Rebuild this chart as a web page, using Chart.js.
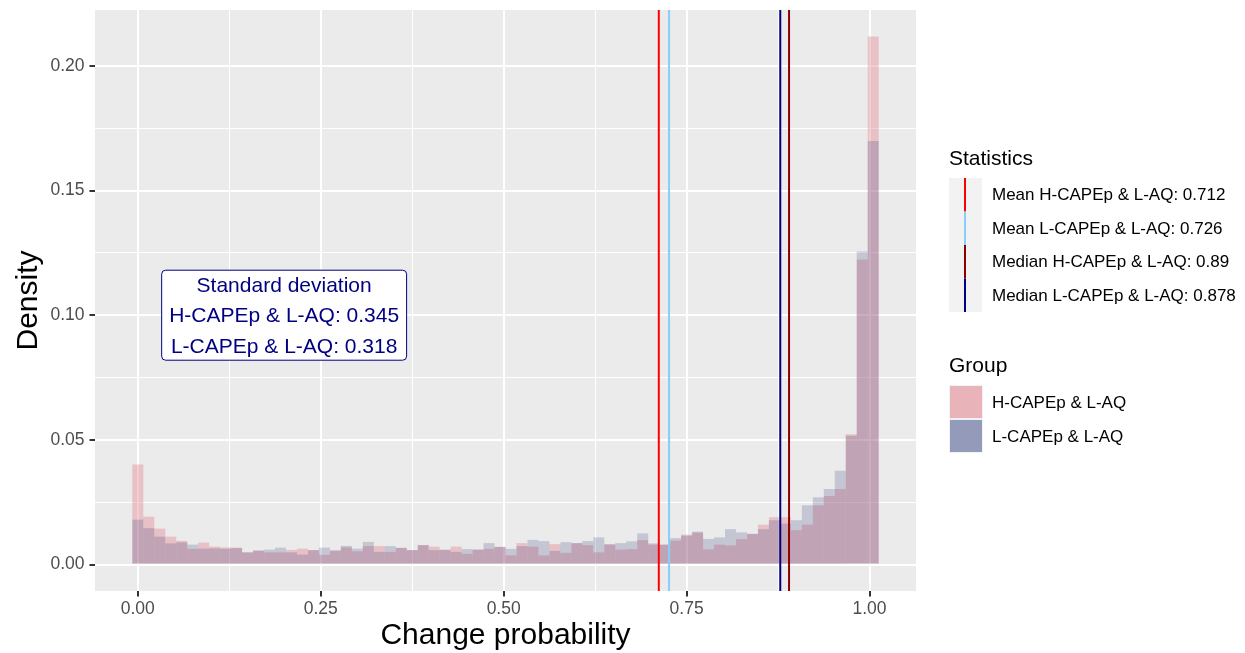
<!DOCTYPE html>
<html>
<head>
<meta charset="utf-8">
<title>Change probability histogram</title>
<script src="https://cdn.jsdelivr.net/npm/chart.js@4.4.1/dist/chart.umd.min.js"></script>
<style>
  html, body { margin: 0; padding: 0; background: #ffffff; }
  #wrap { width: 1245px; height: 653px; position: relative; }
</style>
</head>
<body>
<div id="wrap"><canvas id="histChart" width="1245" height="653"></canvas></div>
<script>
// bin centres (binwidth 0.015)
const binCenters = [
  0, 0.015, 0.03, 0.045, 0.06, 0.075, 0.09, 0.105, 0.12, 0.135,
  0.15, 0.165, 0.18, 0.195, 0.21, 0.225, 0.24, 0.255, 0.27, 0.285,
  0.3, 0.315, 0.33, 0.345, 0.36, 0.375, 0.39, 0.405, 0.42, 0.435,
  0.45, 0.465, 0.48, 0.495, 0.51, 0.525, 0.54, 0.555, 0.57, 0.585,
  0.6, 0.615, 0.63, 0.645, 0.66, 0.675, 0.69, 0.705, 0.72, 0.735,
  0.75, 0.765, 0.78, 0.795, 0.81, 0.825, 0.84, 0.855, 0.87, 0.885,
  0.9, 0.915, 0.93, 0.945, 0.96, 0.975, 0.99, 1.005
];

// H-CAPEp & L-AQ
const hDensity = [
  0.0401, 0.0192, 0.0144, 0.0112, 0.0095, 0.0063, 0.0088, 0.0072, 0.0069, 0.0068,
  0.0049, 0.0056, 0.0049, 0.0049, 0.0059, 0.0064, 0.0058, 0.0039, 0.0054, 0.0069,
  0.0053, 0.0074, 0.0074, 0.0051, 0.0067, 0.0058, 0.0078, 0.0072, 0.0058, 0.0072,
  0.0043, 0.0060, 0.0063, 0.0071, 0.0037, 0.0086, 0.0072, 0.0037, 0.0082, 0.0047,
  0.0086, 0.0078, 0.0049, 0.0081, 0.0060, 0.0062, 0.0098, 0.0080, 0.0080, 0.0096,
  0.0120, 0.0128, 0.0061, 0.0080, 0.0077, 0.0102, 0.0123, 0.0160, 0.0190, 0.0190,
  0.0138, 0.0160, 0.0238, 0.0275, 0.0303, 0.0523, 0.1223, 0.2118
];

// L-CAPEp & L-AQ
const lDensity = [
  0.0180, 0.0146, 0.0112, 0.0085, 0.0089, 0.0080, 0.0064, 0.0065, 0.0063, 0.0066,
  0.0049, 0.0056, 0.0060, 0.0068, 0.0049, 0.0040, 0.0058, 0.0068, 0.0058, 0.0075,
  0.0064, 0.0091, 0.0051, 0.0074, 0.0067, 0.0058, 0.0078, 0.0058, 0.0060, 0.0051,
  0.0062, 0.0060, 0.0086, 0.0071, 0.0063, 0.0074, 0.0099, 0.0094, 0.0055, 0.0090,
  0.0086, 0.0094, 0.0109, 0.0081, 0.0086, 0.0093, 0.0125, 0.0085, 0.0080, 0.0106,
  0.0116, 0.0132, 0.0103, 0.0109, 0.0142, 0.0129, 0.0123, 0.0142, 0.0178, 0.0164,
  0.0178, 0.0238, 0.0270, 0.0303, 0.0376, 0.0517, 0.1256, 0.1699
];

const groupNames = ["H-CAPEp & L-AQ", "L-CAPEp & L-AQ"];
const statNames = ["Mean H-CAPEp & L-AQ", "Mean L-CAPEp & L-AQ", "Median H-CAPEp & L-AQ", "Median L-CAPEp & L-AQ"];
const statValues = [0.712, 0.726, 0.89, 0.878];
const sdValues = [0.345, 0.318];

const statColors = ["#FF0000", "#87CEFA", "#8B0000", "#000080"];
const barFill = ["rgba(225,130,140,0.4)", "rgba(40,50,120,0.2)"];
const keyFill = ["rgb(233,180,185)", "rgb(148,154,186)"];
const FONT = '"Liberation Sans", Arial, Helvetica, sans-serif';

Chart.defaults.font.family = FONT;

function isMajor(v, step) {
  const r = v / step;
  return Math.abs(r - Math.round(r)) < 1e-6;
}

// grey panel behind the grid
const panelBg = {
  id: "panelBg",
  beforeDraw(chart) {
    const { ctx, chartArea: a } = chart;
    ctx.save();
    ctx.fillStyle = "#EBEBEB";
    ctx.fillRect(a.left, a.top, a.right - a.left, a.bottom - a.top);
    ctx.restore();
  }
};

// mean / median lines and the sd box
const overlays = {
  id: "overlays",
  afterDatasetsDraw(chart) {
    const { ctx, chartArea: a, scales: { x, y } } = chart;
    ctx.save();
    ctx.lineWidth = 2;
    statValues.forEach((v, i) => {
      const px = x.getPixelForValue(v);
      ctx.strokeStyle = statColors[i];
      ctx.beginPath();
      ctx.moveTo(px, a.top);
      ctx.lineTo(px, a.bottom);
      ctx.stroke();
    });

    const lines = ["Standard deviation"].concat(groupNames.map((g, i) => g + ": " + sdValues[i]));
    const cx = x.getPixelForValue(0.2);
    const cy = y.getPixelForValue(0.1);
    ctx.font = "21px " + FONT;
    const w = Math.max(...lines.map(l => ctx.measureText(l).width)) + 15;
    const h = 90;
    ctx.beginPath();
    ctx.roundRect(cx - w / 2, cy - h / 2, w, h, 4);
    ctx.fillStyle = "#FFFFFF";
    ctx.fill();
    ctx.lineWidth = 1;
    ctx.strokeStyle = "#000080";
    ctx.stroke();
    ctx.fillStyle = "#000080";
    ctx.textAlign = "center";
    ctx.textBaseline = "middle";
    lines.forEach((l, i) => ctx.fillText(l, cx, cy + (i - 1) * 30.5 + 1));
    ctx.restore();
  }
};

// legends on the right
const legends = {
  id: "legends",
  afterDraw(chart) {
    const ctx = chart.ctx;
    ctx.save();
    ctx.fillStyle = "#000000";
    ctx.textAlign = "left";
    ctx.textBaseline = "middle";

    ctx.font = "21px " + FONT;
    ctx.fillText("Statistics", 949, 159);
    ctx.fillText("Group", 949, 366);

    // statistics keys
    const keyH = 33.5;
    ctx.fillStyle = "#F2F2F2";
    ctx.fillRect(949, 178, 33, keyH * 4);
    ctx.font = "17px " + FONT;
    statNames.forEach((n, i) => {
      const top = 178 + i * keyH;
      ctx.fillStyle = statColors[i];
      ctx.fillRect(964, top, 2, keyH);
      ctx.fillStyle = "#000000";
      ctx.fillText(n + ": " + statValues[i], 992, top + keyH / 2 + 1);
    });

    // group keys
    groupNames.forEach((g, i) => {
      const top = 385 + i * 34;
      ctx.fillStyle = "#F2F2F2";
      ctx.fillRect(949, top, 34, 34);
      ctx.fillStyle = keyFill[i];
      ctx.fillRect(950, top + 1, 32, 32);
      ctx.fillStyle = "#000000";
      ctx.fillText(g, 992, top + 17 + 1);
    });
    ctx.restore();
  }
};

function noPad(scale) {
  scale.paddingTop = 0;
  scale.paddingBottom = 0;
  scale.paddingLeft = 0;
  scale.paddingRight = 0;
}

const ctx = document.getElementById("histChart").getContext("2d");

new Chart(ctx, {
  type: "bar",
  data: {
    datasets: [
      {
        label: groupNames[1],
        data: binCenters.map((c, i) => ({ x: c, y: lDensity[i] })),
        backgroundColor: barFill[1],
        borderWidth: 0,
        inflateAmount: 0,
        grouped: false,
        barPercentage: 1,
        categoryPercentage: 1,
        order: 0
      },
      {
        label: groupNames[0],
        data: binCenters.map((c, i) => ({ x: c, y: hDensity[i] })),
        backgroundColor: barFill[0],
        borderWidth: 0,
        inflateAmount: 0,
        grouped: false,
        barPercentage: 1,
        categoryPercentage: 1,
        order: 1
      }
    ]
  },
  options: {
    responsive: false,
    animation: false,
    layout: { padding: { left: 0, top: 10, right: 329, bottom: 0 } },
    plugins: {
      legend: { display: false },
      tooltip: { enabled: false }
    },
    scales: {
      x: {
        type: "linear",
        min: -0.0585,
        max: 1.0635,
        offset: false,
        border: { display: false },
        grid: {
          offset: false,
          color: "#FFFFFF",
          lineWidth: c => (c.tick && isMajor(c.tick.value, 0.25) ? 2 : 1),
          tickColor: c => (c.tick && isMajor(c.tick.value, 0.25) ? "#333333" : "rgba(0,0,0,0)"),
          tickWidth: 2,
          tickLength: 5.5
        },
        ticks: {
          stepSize: 0.125,
          includeBounds: false,
          autoSkip: false,
          maxRotation: 0,
          padding: 2,
          color: "#4D4D4D",
          font: { size: 17.5 },
          callback: v => (isMajor(v, 0.25) ? v.toFixed(2) : "")
        },
        title: {
          display: true,
          text: "Change probability",
          color: "#000000",
          font: { size: 30, lineHeight: 1 },
          padding: { top: 0, bottom: 2.5 }
        },
        afterFit: s => { s.height = 62; noPad(s); }
      },
      y: {
        min: -0.0106,
        max: 0.2224,
        border: { display: false },
        grid: {
          color: "#FFFFFF",
          lineWidth: c => (c.tick && isMajor(c.tick.value, 0.05) ? 2 : 1),
          tickColor: c => (c.tick && isMajor(c.tick.value, 0.05) ? "#333333" : "rgba(0,0,0,0)"),
          tickWidth: 2,
          tickLength: 5.5
        },
        ticks: {
          stepSize: 0.025,
          includeBounds: false,
          maxTicksLimit: 20,
          padding: 5,
          color: "#4D4D4D",
          font: { size: 17.5 },
          callback: v => (isMajor(v, 0.05) ? v.toFixed(2) : "")
        },
        title: {
          display: true,
          text: "Density",
          color: "#000000",
          font: { size: 30, lineHeight: 1 },
          padding: { top: 14, bottom: 0 }
        },
        afterFit: s => { s.width = 95; noPad(s); }
      }
    }
  },
  plugins: [panelBg, overlays, legends]
});
</script>
</body>
</html>
